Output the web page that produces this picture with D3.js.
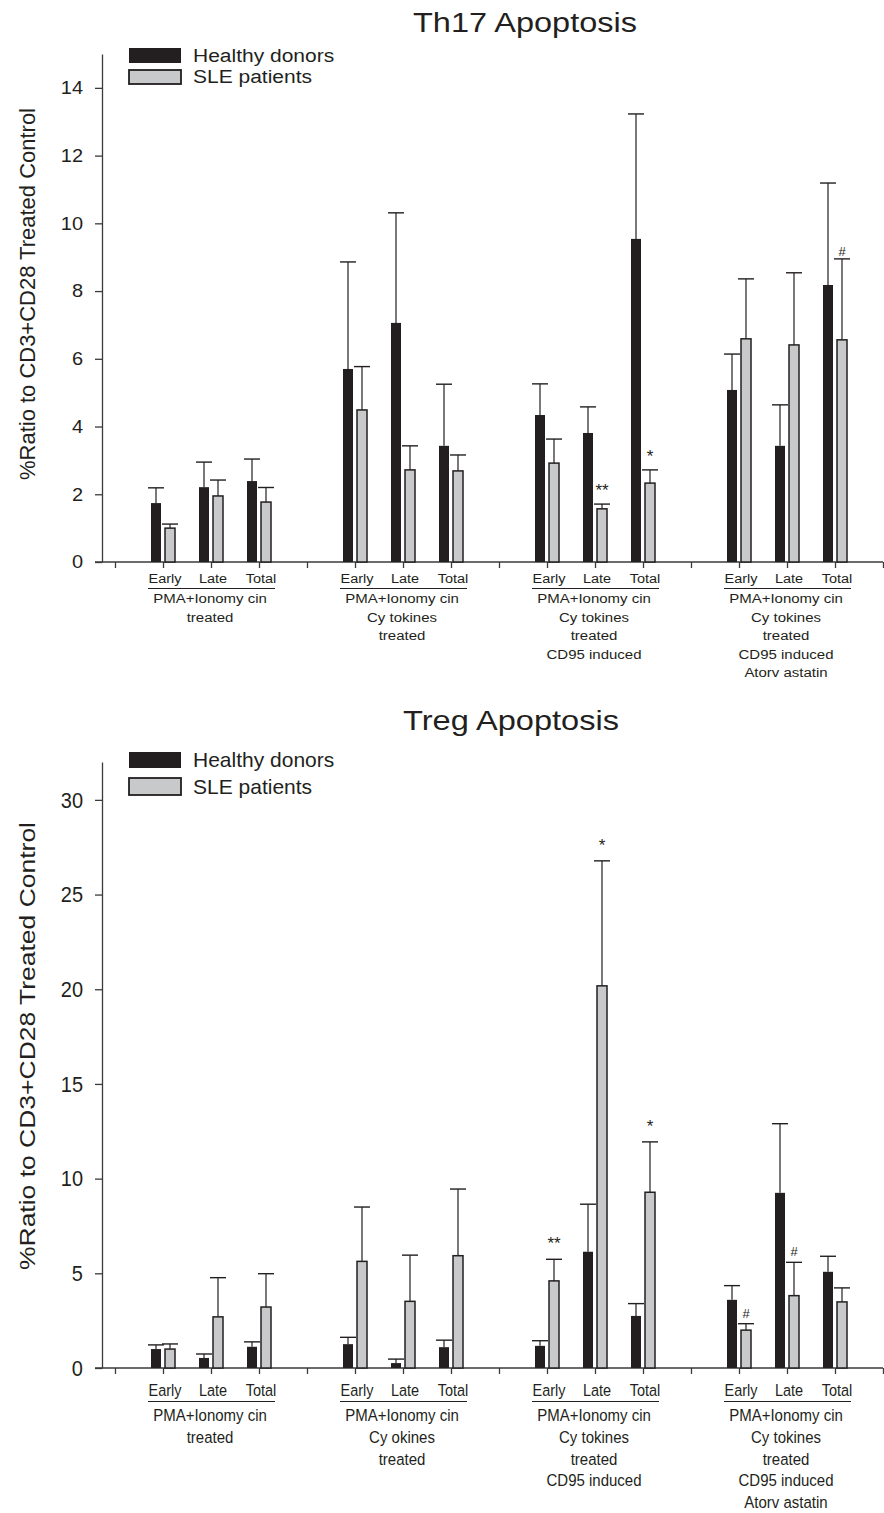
<!DOCTYPE html>
<html>
<head>
<meta charset="utf-8">
<script src="https://cdn.jsdelivr.net/npm/d3@7"></script>
<style>
  body { margin: 0; background: #fff; }
  svg text { font-family: "Liberation Sans", Arial, sans-serif; fill: #231f20; }
</style>
</head>
<body>
<svg id="chart" width="884" height="1513"></svg>
<script>
// ---- data ----
const categories = ["Early", "Late", "Total"];
const seriesNames = ["Healthy donors", "SLE patients"];

const th17GroupLabels = [
  ["PMA+Ionomy cin", "treated"],
  ["PMA+Ionomy cin", "Cy tokines", "treated"],
  ["PMA+Ionomy cin", "Cy tokines", "treated", "CD95 induced"],
  ["PMA+Ionomy cin", "Cy tokines", "treated", "CD95 induced", "Atorv astatin"]
];
const tregGroupLabels = [
  ["PMA+Ionomy cin", "treated"],
  ["PMA+Ionomy cin", "Cy okines", "treated"],
  ["PMA+Ionomy cin", "Cy tokines", "treated", "CD95 induced"],
  ["PMA+Ionomy cin", "Cy tokines", "treated", "CD95 induced", "Atorv astatin"]
];

const th17Healthy    = [1.74, 2.21, 2.39, 5.70, 7.06, 3.43, 4.34, 3.81, 9.54, 5.08, 3.43, 8.18];
const th17HealthyErr = [0.45, 0.74, 0.65, 3.16, 3.25, 1.82, 0.92, 0.77, 3.69, 1.06, 1.21, 3.01];
const th17Sle        = [1.00, 1.95, 1.77, 4.49, 2.72, 2.69, 2.92, 1.57, 2.33, 6.59, 6.41, 6.56];
const th17SleErr     = [0.12, 0.47, 0.43, 1.28, 0.71, 0.47, 0.71, 0.14, 0.39, 1.77, 2.13, 2.39];
const th17Sig = [{ i: 7, s: 1, mark: "**" }, { i: 8, s: 1, mark: "*" }, { i: 11, s: 1, mark: "#" }];
const th17Ticks = [0, 2, 4, 6, 8, 10, 12, 14];

const tregHealthy    = [1.00, 0.53, 1.12, 1.26, 0.26, 1.10, 1.17, 6.14, 2.75, 3.60, 9.25, 5.08];
const tregHealthyErr = [0.22, 0.21, 0.26, 0.36, 0.21, 0.37, 0.27, 2.51, 0.65, 0.75, 3.65, 0.82];
const tregSle        = [1.00, 2.70, 3.22, 5.63, 3.52, 5.93, 4.60, 20.18, 9.28, 2.00, 3.82, 3.49];
const tregSleErr     = [0.27, 2.07, 1.76, 2.87, 2.44, 3.52, 1.14, 6.60, 2.66, 0.34, 1.76, 0.74];
const tregSig = [{ i: 6, s: 1, mark: "**" }, { i: 7, s: 1, mark: "*" }, { i: 8, s: 1, mark: "*" },
                 { i: 9, s: 1, mark: "#" }, { i: 10, s: 1, mark: "#" }];
const tregTicks = [0, 5, 10, 15, 20, 25, 30];

const INK = "#231f20", GREY = "#c8c9cb";
const svg = d3.select("#chart");

// x positions: 17 tick slots, a blank slot between each group of three
const x = d3.scaleLinear().domain([0, 16]).range([115, 883]);
const slot = i => Math.floor(i / 3) * 4 + 1 + (i % 3);

function txt(g, px, py, s, size, sy, anchor) {
  return g.append("text")
    .attr("transform", `translate(${px},${py}) scale(1,${sy})`)
    .attr("text-anchor", anchor || "start")
    .style("font-size", size + "px")
    .text(s);
}

function drawChart(c) {
  const g = svg.append("g");
  const y = d3.scaleLinear().domain([0, c.yMax]).range([c.y0, c.yTop]);

  // title
  txt(g, c.titleX, c.titleY, c.title, c.titleSize, 1, "middle")
    .attr("textLength", c.titleLen).attr("lengthAdjust", "spacingAndGlyphs");

  // y label
  g.append("text")
    .attr("transform", `translate(35,${c.yLabelMid}) rotate(-90)`)
    .attr("text-anchor", "middle")
    .style("font-size", "22px")
    .attr("textLength", c.yLabelLen).attr("lengthAdjust", "spacingAndGlyphs")
    .text("%Ratio to CD3+CD28 Treated Control");

  // y axis
  const ya = g.append("g").attr("transform", "translate(102,0)")
    .call(d3.axisLeft(y).tickValues(c.ticks).tickSize(7).tickPadding(12).tickSizeOuter(0));
  ya.select(".domain").attr("stroke", "#3a3a3a").attr("stroke-width", 1.3);
  ya.selectAll(".tick line").attr("stroke", "#3a3a3a").attr("stroke-width", 1.3);
  ya.selectAll(".tick text").attr("transform", `scale(1,${c.tickSy})`)
    .style("font-size", "20px").attr("fill", INK)
    .style("font-family", '"Liberation Sans", Arial, sans-serif');

  // x axis
  const xa = g.append("g").attr("transform", `translate(0,${c.y0})`)
    .call(d3.axisBottom(x).tickValues(d3.range(17)).tickSize(6).tickFormat("").tickSizeOuter(0));
  xa.select(".domain").remove();
  xa.selectAll(".tick line").attr("stroke", "#3a3a3a").attr("stroke-width", 1.3);
  g.append("line").attr("x1", 95).attr("x2", x(16)).attr("y1", c.y0).attr("y2", c.y0)
    .attr("stroke", "#3a3a3a").attr("stroke-width", 1.5);

  // bars + error bars
  const series = [
    { vals: c.healthy, errs: c.healthyErr, dx: -7, fill: INK },
    { vals: c.sle, errs: c.sleErr, dx: 7, fill: GREY }
  ];
  series.forEach((s, si) => {
    const cx = i => x(slot(i)) + s.dx;
    g.selectAll(null).data(s.vals).enter().append("line")
      .attr("x1", (d, i) => cx(i)).attr("x2", (d, i) => cx(i))
      .attr("y1", d => y(d)).attr("y2", (d, i) => y(d + s.errs[i]))
      .attr("stroke", INK).attr("stroke-width", 1.2);
    g.selectAll(null).data(s.vals).enter().append("line")
      .attr("x1", (d, i) => cx(i) - 8).attr("x2", (d, i) => cx(i) + 8)
      .attr("y1", (d, i) => y(d + s.errs[i])).attr("y2", (d, i) => y(d + s.errs[i]))
      .attr("stroke", INK).attr("stroke-width", 1.4);
    g.selectAll(null).data(s.vals).enter().append("rect")
      .attr("x", (d, i) => cx(i) - 5).attr("width", 10)
      .attr("y", d => y(d)).attr("height", d => c.y0 - y(d))
      .attr("fill", s.fill)
      .attr("stroke", si === 1 ? INK : "none").attr("stroke-width", 1.5);
  });

  // significance marks
  c.sig.forEach(m => {
    const s = series[m.s];
    const top = y(s.vals[m.i] + s.errs[m.i]);
    const px = x(slot(m.i)) + s.dx;
    if (m.mark === "#") {
      txt(g, px, top - c.hashGap, m.mark, 13, 1, "middle");
    } else {
      txt(g, px, top - c.starGap + 9, m.mark, 17, 1, "middle");
    }
  });

  // legend
  c.legend.forEach((r, k) => {
    g.append("rect").attr("x", 129).attr("y", r.y).attr("width", 52).attr("height", r.h)
      .attr("fill", k === 0 ? INK : GREY).attr("stroke", INK).attr("stroke-width", k === 0 ? 0 : 1.8);
    txt(g, 193, r.base, seriesNames[k], 21, c.legendSy);
  });

  // category and group labels
  c.groups.forEach((lines, gi) => {
    categories.forEach((cat, k) => {
      txt(g, x(gi * 4 + 1 + k) + 2, c.catBase, cat, 14.5, c.textSy, "middle");
    });
    g.append("line")
      .attr("x1", x(gi * 4 + 1) - 15).attr("x2", x(gi * 4 + 3) + 16)
      .attr("y1", c.catBase + 5.5).attr("y2", c.catBase + 5.5)
      .attr("stroke", INK).attr("stroke-width", 1.1);
    lines.forEach((ln, li) => {
      txt(g, x(gi * 4 + 2) - 1, c.groupBase + li * c.groupStep, ln, 15, c.textSy, "middle");
    });
  });
}

drawChart({
  title: "Th17 Apoptosis", titleX: 525, titleY: 32, titleSize: 27, titleLen: 224,
  yLabelMid: 294, yLabelLen: 372,
  yMax: 15, y0: 562, yTop: 54, ticks: th17Ticks, tickSy: 0.9,
  healthy: th17Healthy, healthyErr: th17HealthyErr, sle: th17Sle, sleErr: th17SleErr,
  sig: th17Sig, starGap: 17, hashGap: 3,
  legend: [{ y: 48, h: 15, base: 62 }, { y: 70, h: 14, base: 83 }], legendSy: 0.86,
  groups: th17GroupLabels, catBase: 583, groupBase: 603, groupStep: 18.5, textSy: 0.9
});

drawChart({
  title: "Treg Apoptosis", titleX: 511, titleY: 730, titleSize: 28, titleLen: 216,
  yLabelMid: 1046, yLabelLen: 448,
  yMax: 32, y0: 1368, yTop: 762, ticks: tregTicks, tickSy: 1.12,
  healthy: tregHealthy, healthyErr: tregHealthyErr, sle: tregSle, sleErr: tregSleErr,
  sig: tregSig, starGap: 19, hashGap: 6,
  legend: [{ y: 752, h: 16, base: 767 }, { y: 778, h: 17, base: 794 }], legendSy: 1.0,
  groups: tregGroupLabels, catBase: 1396, groupBase: 1421, groupStep: 21.8, textSy: 1.12
});
</script>
</body>
</html>
